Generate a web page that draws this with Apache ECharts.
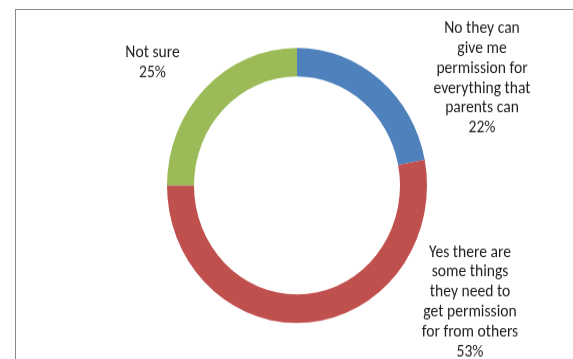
<!DOCTYPE html>
<html>
<head>
<meta charset="utf-8">
<script src="https://cdn.jsdelivr.net/npm/echarts@6/dist/echarts.min.js"></script>
<style>
  html, body { margin: 0; padding: 0; background: #fff; overflow: hidden; }
  #wrap { position: relative; width: 573px; height: 359px; overflow: hidden; }
  #frame { position: absolute; left: 15px; top: 9px; width: 620px; height: 400px;
           border: 1px solid #8a8a8a; box-sizing: border-box; }
  /* the ring is drawn slightly taller than wide */
  #chart { position: absolute; left: 0; top: 0; width: 573px; height: 339.3px;
           transform: scaleY(1.058); transform-origin: 0 0; }
</style>
</head>
<body>
<div id="wrap">
  <div id="frame"></div>
  <div id="chart"></div>
</div>
<script>
// Answers and their shares (percent)
const categories = [
  'No they can\ngive me\npermission for\neverything that\nparents can',
  'Yes there are\nsome things\nthey need to\nget permission\nfor from others',
  'Not sure'
];
const shares = [22, 53, 25];
const colors = ['#4F81BD', '#C0504D', '#9BBB59'];

const SY = 1.058;               // vertical stretch of the chart container
// label block centres in page pixels
const labelCentres = [[482, 78.5], [470, 302.5], [152.5, 63]];

const chart = echarts.init(document.getElementById('chart'), null, { renderer: 'canvas' });

chart.setOption({
  animation: false,
  backgroundColor: 'transparent',
  series: [{
    type: 'pie',
    center: [297, 185.5 / SY],
    radius: [103, 130],
    startAngle: 90,
    clockwise: true,
    avoidLabelOverlap: false,
    silent: true,
    data: categories.map((name, i) => ({
      name: name,
      value: shares[i],
      itemStyle: { color: colors[i] }
    })),
    label: {
      show: true,
      position: 'outside',
      formatter: '{b}\n{c}%',
      fontFamily: 'Carlito, Lato, sans-serif',
      fontSize: 15.6,
      lineHeight: 20 / SY,
      color: '#1e1e1e',
      align: 'center'
    },
    labelLine: { show: false },
    labelLayout: function (params) {
      const c = labelCentres[params.dataIndex];
      return { x: c[0], y: c[1] / SY, align: 'center', verticalAlign: 'middle' };
    }
  }]
});
</script>
</body>
</html>
